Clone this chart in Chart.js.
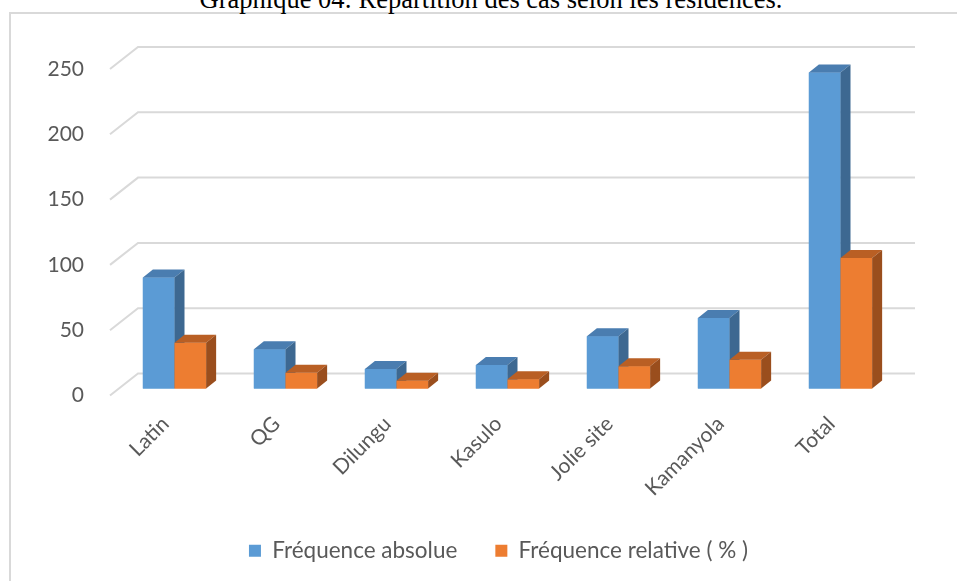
<!DOCTYPE html>
<html>
<head>
<meta charset="utf-8">
<script src="https://cdn.jsdelivr.net/npm/chart.js@4.4.1/dist/chart.umd.min.js"></script>
<style>
  html, body { margin: 0; padding: 0; background: #fff; overflow: hidden; }
  #frame { position: absolute; left: 9px; top: 12px; width: 1000px; height: 700px;
           border-left: 2px solid #d9d9d9; border-top: 2px solid #d9d9d9; }
  #title { position: absolute; left: 0; width: 982px; top: -16px; line-height: 26px;
           text-align: center; font: 26.5px "Liberation Serif", "Times New Roman", serif; color: #000; }
  #wrap { position: absolute; left: 0; top: 0; width: 957px; height: 581px; }
</style>
</head>
<body>
<div id="frame"></div>
<div id="title">Graphique 04: Répartition des cas selon les résidences.</div>
<div id="wrap"><canvas id="chart"></canvas></div>
<script>
const residences = ["Latin", "QG", "Dilungu", "Kasulo", "Jolie site", "Kamanyola", "Total"];
const freqAbsolue = [85, 30, 15, 18, 40, 54, 242];
const freqRelative = [35, 12, 6, 7, 17, 22, 100];
const yTicks = [0, 50, 100, 150, 200, 250];

// profondeur du "sol" et des barres (effet 3D)
const floorDx = 28, floorDy = 22;
const barShiftX = 9, barShiftY = 7;
const depthX = 10, depthY = 8;

const faces = [
  { front: "#5b9bd5", top: "#4a7db0", side: "#3d6891" },
  { front: "#ed7d31", top: "#b95f24", side: "#9a4e1d" },
];

const bars3d = {
  id: "bars3d",
  beforeDatasetsDraw(chart) {
    const { ctx, chartArea, scales } = chart;
    const y = scales.y;
    ctx.save();
    ctx.strokeStyle = "#d9d9d9";
    ctx.lineWidth = 2;
    yTicks.forEach((v) => {
      const py = y.getPixelForValue(v);
      ctx.beginPath();
      ctx.moveTo(chartArea.left, py);
      ctx.lineTo(chartArea.left + floorDx, py - floorDy);
      ctx.lineTo(chartArea.right + floorDx, py - floorDy);
      ctx.stroke();
    });
    ctx.restore();
    ctx.save();
    ctx.translate(barShiftX, -barShiftY);
  },
  afterDatasetsDraw(chart) {
    const { ctx } = chart;
    chart.data.datasets.forEach((ds, i) => {
      const meta = chart.getDatasetMeta(i);
      const c = faces[i];
      meta.data.forEach((bar) => {
        const p = bar.getProps(["x", "y", "base", "width"], true);
        const l = p.x - p.width / 2, r = p.x + p.width / 2;
        ctx.fillStyle = c.front;
        ctx.fillRect(l, p.y, p.width, p.base - p.y);
        ctx.fillStyle = c.top;
        ctx.beginPath();
        ctx.moveTo(l, p.y);
        ctx.lineTo(r, p.y);
        ctx.lineTo(r + depthX, p.y - depthY);
        ctx.lineTo(l + depthX, p.y - depthY);
        ctx.closePath();
        ctx.fill();
        ctx.fillStyle = c.side;
        ctx.beginPath();
        ctx.moveTo(r, p.y);
        ctx.lineTo(r + depthX, p.y - depthY);
        ctx.lineTo(r + depthX, p.base - depthY);
        ctx.lineTo(r, p.base);
        ctx.closePath();
        ctx.fill();
      });
    });
    ctx.restore();
  },
};

const tickFont = { family: "Lato, 'Open Sans', sans-serif", size: 21 };
const legendFont = { family: "Lato, 'Open Sans', sans-serif", size: 22.5 };

new Chart(document.getElementById("chart"), {
  type: "bar",
  data: {
    labels: residences,
    datasets: [
      { label: "Fréquence absolue", data: freqAbsolue, backgroundColor: faces[0].front, clip: false },
      { label: "Fréquence relative ( % )", data: freqRelative, backgroundColor: faces[1].front, clip: false },
    ],
  },
  options: {
    responsive: true,
    maintainAspectRatio: false,
    animation: false,
    layout: { padding: { left: 0, right: 70, top: 69, bottom: 9 } },
    datasets: { bar: { barPercentage: 1, categoryPercentage: 0.57 } },
    scales: {
      x: {
        grid: { display: false },
        border: { display: false },
        ticks: { color: "#595959", font: tickFont, minRotation: 45, maxRotation: 45, padding: 8 },
        afterFit(scale) { scale.height = 106; },
      },
      y: {
        min: 0,
        max: 250,
        grid: { display: false },
        border: { display: false },
        ticks: { stepSize: 50, color: "#595959", font: tickFont, padding: 18 },
        afterFit(scale) { scale.width = 110; },
      },
    },
    plugins: {
      legend: {
        position: "bottom",
        fullSize: false,
        labels: { boxWidth: 12, boxHeight: 12, padding: 38, color: "#595959", font: legendFont },
      },
      tooltip: { enabled: false },
    },
  },
  plugins: [bars3d],
});
</script>
</body>
</html>
